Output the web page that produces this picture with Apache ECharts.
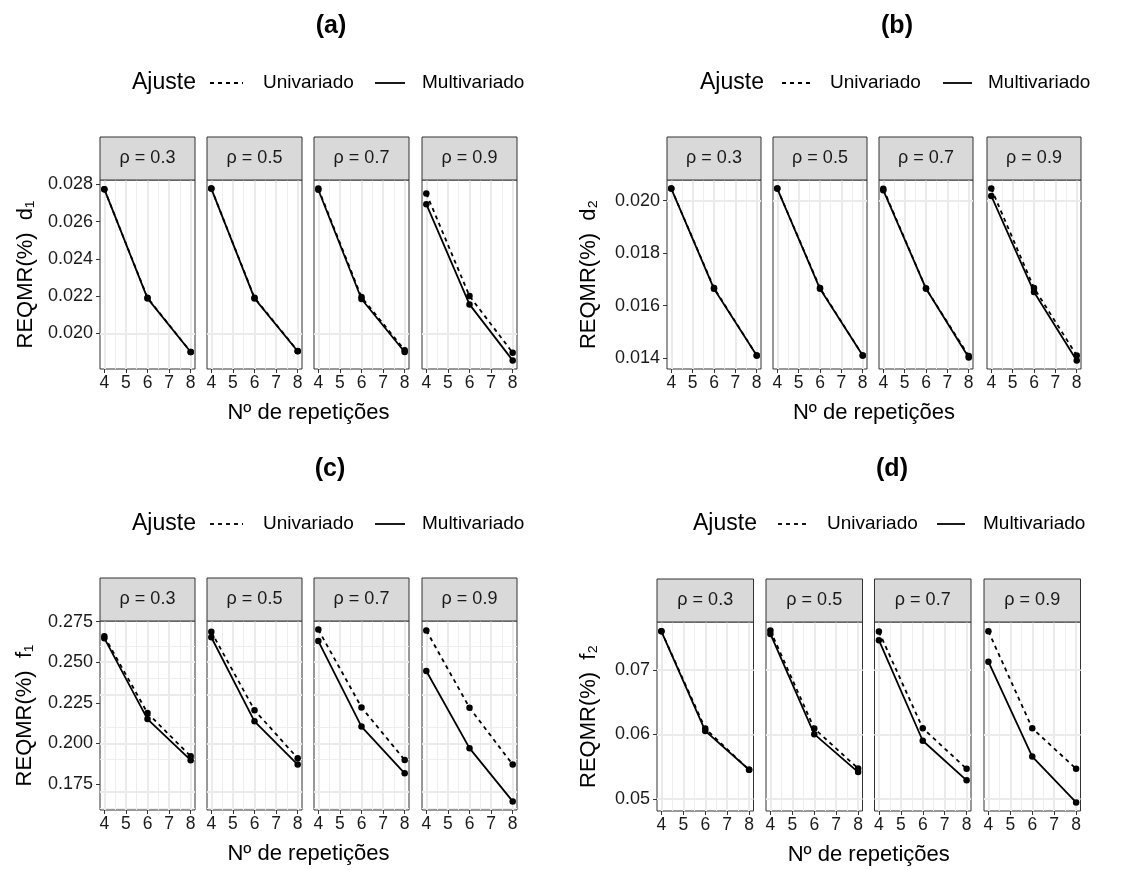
<!DOCTYPE html>
<html>
<head>
<meta charset="utf-8">
<script src="https://cdn.jsdelivr.net/npm/echarts@6/dist/echarts.min.js"></script>
<style>
  html, body { margin: 0; padding: 0; background: #fff; }
  #chart { width: 1123px; height: 870px; }
</style>
</head>
<body>
<div id="chart"></div>
<script>
// x values and facets
var reps = [4, 6, 8];
var xTicks = [4, 5, 6, 7, 8];
var xMinor = [4.5, 5.5, 6.5, 7.5];
var rhoLabels = ['0.3', '0.5', '0.7', '0.9'];
var panelTags = ['(a)', '(b)', '(c)', '(d)'];
var yTitles = ['REQMR(%)  d\u2081', 'REQMR(%)  d\u2082', 'REQMR(%)  f\u2081', 'REQMR(%)  f\u2082'];
var seriesNames = ['Univariado', 'Multivariado'];

// one row per rho (0.3, 0.5, 0.7, 0.9), values at 4, 6, 8 repetitions
var d1Uni   = [[0.02775, 0.02192, 0.01900], [0.02778, 0.02192, 0.01906], [0.02778, 0.02195, 0.01910], [0.02752, 0.02201, 0.01896]];
var d1Multi = [[0.02775, 0.02188, 0.01900], [0.02778, 0.02188, 0.01904], [0.02772, 0.02185, 0.01900], [0.02694, 0.02156, 0.01855]];
var d2Uni   = [[0.02046, 0.01667, 0.01410], [0.02046, 0.01667, 0.01410], [0.02045, 0.01665, 0.01408], [0.02046, 0.01667, 0.01410]];
var d2Multi = [[0.02046, 0.01664, 0.01410], [0.02046, 0.01664, 0.01410], [0.02040, 0.01665, 0.01402], [0.02018, 0.01652, 0.01391]];
var f1Uni   = [[0.2660, 0.2187, 0.1921], [0.2687, 0.2205, 0.1909], [0.2701, 0.2222, 0.1898], [0.2695, 0.2220, 0.1870]];
var f1Multi = [[0.2648, 0.2150, 0.1897], [0.2654, 0.2136, 0.1870], [0.2630, 0.2104, 0.1816], [0.2446, 0.1971, 0.1643]];
var f2Uni   = [[0.07597, 0.06092, 0.05454], [0.07608, 0.06092, 0.05474], [0.07592, 0.06097, 0.05469], [0.07597, 0.06097, 0.05469]];
var f2Multi = [[0.07597, 0.06056, 0.05454], [0.07556, 0.06005, 0.05418], [0.07459, 0.05903, 0.05290], [0.07127, 0.05658, 0.04949]];

// y tick labels and minor grid values
var d1Ticks = [0.020, 0.022, 0.024, 0.026, 0.028];
var d1Minor = [0.019, 0.021, 0.023, 0.025, 0.027];
var d2Ticks = [0.014, 0.016, 0.018, 0.020];
var d2Minor = [0.015, 0.017, 0.019];
var f1Ticks = [0.175, 0.200, 0.225, 0.250, 0.275];
var f1Minor = [0.1625, 0.1875, 0.2125, 0.2375, 0.2625];
var f2Ticks = [0.05, 0.06, 0.07];
var f2Minor = [0.055, 0.065, 0.075];

var panels = [
  { uni: d1Uni, multi: d1Multi, ticks: d1Ticks, minor: d1Minor, digits: 3 },
  { uni: d2Uni, multi: d2Multi, ticks: d2Ticks, minor: d2Minor, digits: 3 },
  { uni: f1Uni, multi: f1Multi, ticks: f1Ticks, minor: f1Minor, digits: 3 },
  { uni: f2Uni, multi: f2Multi, ticks: f2Ticks, minor: f2Minor, digits: 2 }
];

// layout (pixels)
var layout = [
  { lefts: [100, 207, 314, 422], width: 95, top: 180, tagX: 331, tagY: 26, legY: 83, legX: [132, 210, 243, 263, 375, 405, 422], yTitleX: 26 },
  { lefts: [667, 773, 879, 987], width: 94, top: 180, tagX: 897, tagY: 26, legY: 83, legX: [700, 782, 812, 830, 943, 972, 988], yTitleX: 589 },
  { lefts: [100, 207, 314, 422], width: 95, top: 621, tagX: 330, tagY: 469, legY: 524, legX: [132, 210, 243, 263, 375, 405, 422], yTitleX: 25 },
  { lefts: [657, 766, 874.5, 984], width: 96.5, top: 622, tagX: 892, tagY: 469, legY: 524, legX: [693, 778, 808, 827, 937, 965, 983], yTitleX: 589 }
];
var panelH = 189;
var stripH = 43;
var FONT = '"Liberation Sans", Arial, sans-serif';

var chart = echarts.init(document.getElementById('chart'));
var grids = [], xAxes = [], yAxes = [], series = [], graphics = [];

panels.forEach(function(p, pi) {
  var L = layout[pi];
  var all = [];
  p.uni.concat(p.multi).forEach(function(r) { all = all.concat(r); });
  var lo = Math.min.apply(null, all), hi = Math.max.apply(null, all);
  var pad = (hi - lo) * 0.05;

  rhoLabels.forEach(function(rho, fi) {
    var gi = grids.length;
    var left = L.lefts[fi];
    grids.push({
      left: left, top: L.top, width: L.width, height: panelH,
      show: true, borderColor: '#333333', borderWidth: 1, backgroundColor: '#ffffff'
    });
    xAxes.push({
      gridIndex: gi, type: 'value', min: 3.8, max: 8.2,
      axisLine: { show: false },
      splitLine: { show: false },
      axisTick: { show: true, length: 4, customValues: xTicks, lineStyle: { color: '#333333' } },
      axisLabel: { customValues: xTicks, fontSize: 17.5, color: '#1a1a1a', margin: 5, fontFamily: FONT }
    });
    yAxes.push({
      gridIndex: gi, type: 'value', min: lo - pad, max: hi + pad,
      axisLine: { show: false },
      splitLine: { show: false },
      axisTick: { show: fi === 0, length: 4, customValues: p.ticks, lineStyle: { color: '#333333' } },
      axisLabel: {
        show: fi === 0, customValues: p.ticks, fontSize: 18, color: '#1a1a1a', margin: 7, fontFamily: FONT,
        formatter: function(v) { return v.toFixed(p.digits); }
      }
    });

    // grid lines
    var gl = [];
    p.minor.forEach(function(v) { gl.push({ yAxis: v, lineStyle: { color: '#EEEEEE', width: 1 } }); });
    xMinor.forEach(function(v) { gl.push({ xAxis: v, lineStyle: { color: '#EEEEEE', width: 1 } }); });
    p.ticks.forEach(function(v) { gl.push({ yAxis: v, lineStyle: { color: '#EBEBEB', width: 2 } }); });
    xTicks.forEach(function(v) { gl.push({ xAxis: v, lineStyle: { color: '#EBEBEB', width: 2 } }); });
    series.push({
      type: 'line', xAxisIndex: gi, yAxisIndex: gi, data: [], silent: true, z: 1,
      markLine: { silent: true, z: 1, symbol: ['none', 'none'], label: { show: false },
        lineStyle: { type: 'solid' }, emphasis: { disabled: true }, data: gl }
    });

    [p.uni, p.multi].forEach(function(src, si) {
      series.push({
        name: seriesNames[si], type: 'line', xAxisIndex: gi, yAxisIndex: gi, z: 3,
        data: reps.map(function(x, k) { return [x, src[fi][k]]; }),
        symbol: 'circle', symbolSize: 6.5, showSymbol: true,
        itemStyle: { color: '#000000' },
        lineStyle: { color: '#000000', width: 1.8, type: si === 0 ? [4, 4] : 'solid' },
        emphasis: { disabled: true }
      });
    });

    // facet strip
    graphics.push({
      type: 'rect', silent: true, z: 10,
      shape: { x: left, y: L.top - stripH, width: L.width, height: stripH },
      style: { fill: '#D9D9D9', stroke: '#333333', lineWidth: 1 }
    });
    graphics.push({
      type: 'text', silent: true, z: 11, x: left + L.width / 2, y: L.top - stripH / 2,
      style: { text: '\u03c1 = ' + rho, fill: '#1a1a1a', font: '18px ' + FONT, align: 'center', verticalAlign: 'middle' }
    });
  });

  var x0 = L.lefts[0], x1 = L.lefts[3] + L.width;
  // panel tag
  graphics.push({
    type: 'text', silent: true, x: L.tagX, y: L.tagY,
    style: { text: panelTags[pi], fill: '#000', font: 'bold 25px ' + FONT, align: 'center', verticalAlign: 'middle' }
  });
  // legend
  var lx = L.legX, ly = L.legY;
  graphics.push({ type: 'text', silent: true, x: lx[0], y: ly,
    style: { text: 'Ajuste', fill: '#000', font: '23px ' + FONT, align: 'left', verticalAlign: 'middle' } });
  graphics.push({ type: 'line', silent: true, shape: { x1: lx[1], y1: ly, x2: lx[2], y2: ly },
    style: { stroke: '#000', lineWidth: 1.8, lineDash: [4, 4] } });
  graphics.push({ type: 'text', silent: true, x: lx[3], y: ly,
    style: { text: seriesNames[0], fill: '#000', font: '19px ' + FONT, align: 'left', verticalAlign: 'middle' } });
  graphics.push({ type: 'line', silent: true, shape: { x1: lx[4], y1: ly, x2: lx[5], y2: ly },
    style: { stroke: '#000', lineWidth: 1.8 } });
  graphics.push({ type: 'text', silent: true, x: lx[6], y: ly,
    style: { text: seriesNames[1], fill: '#000', font: '19px ' + FONT, align: 'left', verticalAlign: 'middle' } });
  // axis titles
  graphics.push({ type: 'text', silent: true, x: (x0 + x1) / 2, y: L.top + panelH + 44,
    style: { text: 'N\u00ba de repeti\u00e7\u00f5es', fill: '#000', font: '22px ' + FONT, align: 'center', verticalAlign: 'middle' } });
  graphics.push({ type: 'text', silent: true, x: L.yTitleX, y: L.top + panelH / 2, rotation: Math.PI / 2,
    style: { text: yTitles[pi], fill: '#000', font: '22px ' + FONT, align: 'center', verticalAlign: 'middle' } });
});

chart.setOption({
  animation: false,
  backgroundColor: '#ffffff',
  grid: grids,
  xAxis: xAxes,
  yAxis: yAxes,
  series: series,
  graphic: graphics
});
</script>
</body>
</html>
